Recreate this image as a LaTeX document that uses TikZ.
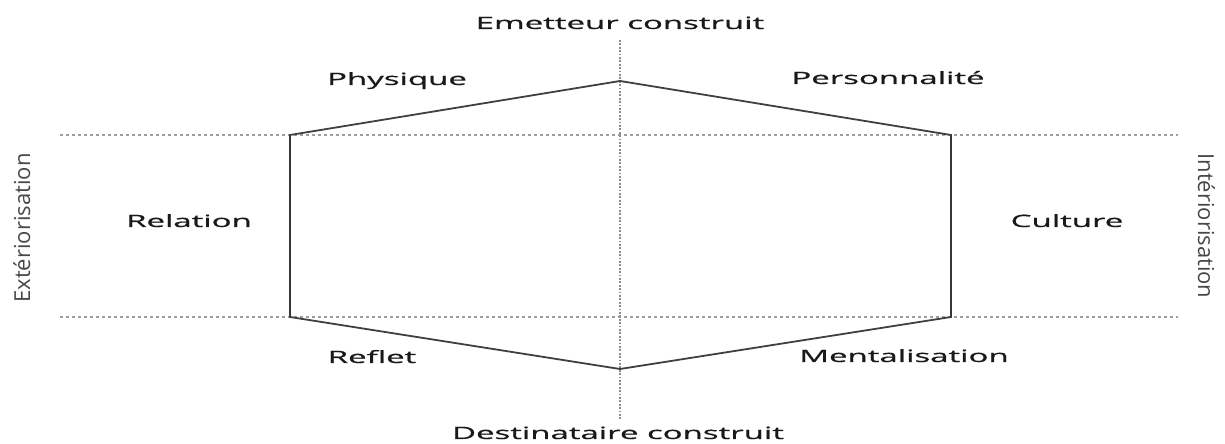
\documentclass[tikz,border=0pt]{standalone}
\usepackage{fontspec}
\setmainfont{Open Sans}
\newfontfamily\labfont[FakeBold=0.6]{Open Sans}
\usepackage{graphicx}
\tikzset{
  hexedge/.style={draw=black!75, line width=1.8bp, line join=miter},
  hexside/.style={draw=black!78, line width=2.8bp},
  guide/.style={draw=black!38, line width=1.2bp, dash pattern=on 3bp off 3bp},
  axisline/.style={draw=black!45, line width=1.1bp, dash pattern=on 1.8bp off 1.6bp},
  lab/.style={inner sep=0pt, anchor=base, text=black!90,
    font=\labfont\fontsize{17bp}{20bp}\selectfont},
  sidelab/.style={inner sep=0pt, anchor=base, text=black!72,
    font=\fontsize{22bp}{26bp}\selectfont},
}
\newcommand\widetext[1]{\scalebox{1.94}[1]{#1}}
\begin{document}
\begin{tikzpicture}[x=1bp, y=-1bp]
  \useasboundingbox (0,0) rectangle (1225,444);

  % hexagon corners
  \coordinate (top) at (620,81);
  \coordinate (tl)  at (290,135);
  \coordinate (tr)  at (951,135);
  \coordinate (bl)  at (290,317);
  \coordinate (br)  at (951,317);
  \coordinate (bot) at (620,369);

  % guide lines
  \coordinate (gtl) at (60,135);   \coordinate (gtr) at (1178,135);
  \coordinate (gbl) at (60,317);   \coordinate (gbr) at (1178,317);
  \coordinate (vt)  at (620,40);   \coordinate (vb)  at (620,420);
  \draw[guide] (gtl) -- (gtr);
  \draw[guide] (gbl) -- (gbr);
  \draw[axisline] (vt) -- (vb);

  % hexagon
  \draw[hexedge] (top) -- (tr) -- (br) -- (bot) -- (bl) -- (tl) -- cycle;
  \draw[hexside] (tl) -- (bl);
  \draw[hexside] (tr) -- (br);

  % labels
  \node[lab] (emet) at (620,29)  {\widetext{Emetteur construit}};
  \node[lab] (dest) at (618,439) {\widetext{Destinataire construit}};
  \node[lab] (phys) at (397,85)  {\widetext{Physique}};
  \node[lab] (pers) at (888,84)  {\widetext{Personnalité}};
  \node[lab] (rela) at (189,227) {\widetext{Relation}};
  \node[lab] (cult) at (1067,227){\widetext{Culture}};
  \node[lab] (refl) at (372,363) {\widetext{Reflet}};
  \node[lab] (ment) at (904,362) {\widetext{Mentalisation}};

  \node[sidelab, rotate=90]  (ext) at (30,228)   {Extériorisation};
  \node[sidelab, rotate=-90] (int) at (1198,226) {Intériorisation};
\end{tikzpicture}
\end{document}
